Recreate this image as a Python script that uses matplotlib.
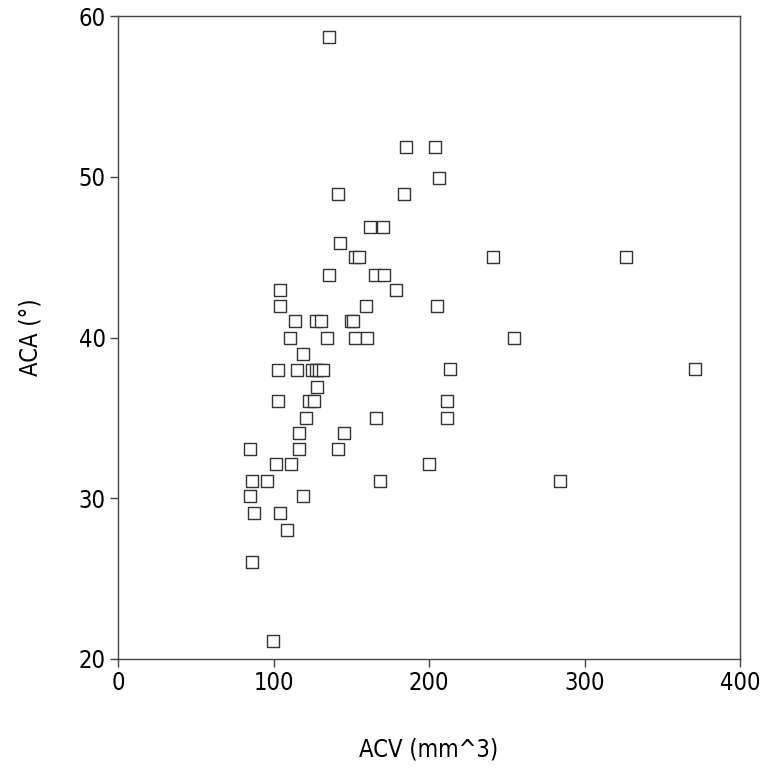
import matplotlib
matplotlib.use('Agg')
import matplotlib.pyplot as plt

# ACV (mm^3) vs ACA (deg)
acv = [135.7, 185.3, 204.1, 206.6, 141.3, 183.9, 162.1, 170.2, 142.8, 152.7,
       155.0, 241.0, 326.7, 135.9, 165.3, 171.1, 104.2, 178.6, 104.2, 159.3,
       205.3, 114.0, 127.5, 130.5, 149.6, 151.0, 110.8, 134.4, 152.6, 160.3,
       254.9, 119.2, 102.7, 115.1, 124.6, 127.1, 129.5, 132.0, 213.6, 371.3,
       128.0, 102.7, 122.9, 125.9, 211.4, 120.9, 165.9, 211.4, 116.2, 145.6,
       84.9, 116.6, 141.3, 101.6, 111.1, 200.0, 86.2, 96.0, 168.5, 284.4,
       84.9, 119.2, 87.7, 104.2, 108.5, 86.2, 99.9]
aca = [58.7, 51.85, 51.85, 49.9, 48.9, 48.9, 46.9, 46.9, 45.9, 45.0,
       45.0, 45.0, 45.0, 43.9, 43.9, 43.9, 42.95, 42.95, 41.95, 41.95,
       41.95, 41.05, 41.05, 41.05, 41.05, 41.05, 40.0, 40.0, 40.0, 40.0,
       40.0, 38.95, 38.0, 38.0, 38.0, 38.0, 38.0, 38.0, 38.05, 38.05,
       36.95, 36.05, 36.05, 36.05, 36.05, 35.0, 35.0, 35.0, 34.05, 34.05,
       33.05, 33.05, 33.05, 32.1, 32.1, 32.1, 31.05, 31.05, 31.05, 31.05,
       30.15, 30.15, 29.1, 29.1, 28.05, 26.05, 21.15]

xticks = [0, 100, 200, 300, 400]
yticks = [20, 30, 40, 50, 60]

plt.rcParams['font.family'] = ['DejaVu Sans']
plt.rcParams['font.stretch'] = 'condensed'

fig = plt.figure(figsize=(7.73, 7.74), dpi=100)
ax = fig.add_axes([118/773, 1 - 659/774, 622/773, 643/774])

ax.scatter(acv, aca, marker='s', s=66, facecolors='white',
           edgecolors='#333333', linewidths=1.0, zorder=3)

ax.set_xlim(0, 400)
ax.set_ylim(20, 60)
ax.set_xticks(xticks)
ax.set_yticks(yticks)
ax.tick_params(direction='out', length=6, width=1, color='#444444',
               labelsize=17, pad=3)

for sp in ax.spines.values():
    sp.set_color('#444444')
    sp.set_linewidth(1)

ax.set_xlabel('ACV (mm^3)', fontsize=17, labelpad=30)
ax.set_ylabel('ACA (°)', fontsize=17, labelpad=26)

fig.savefig('out.png', dpi=100)
